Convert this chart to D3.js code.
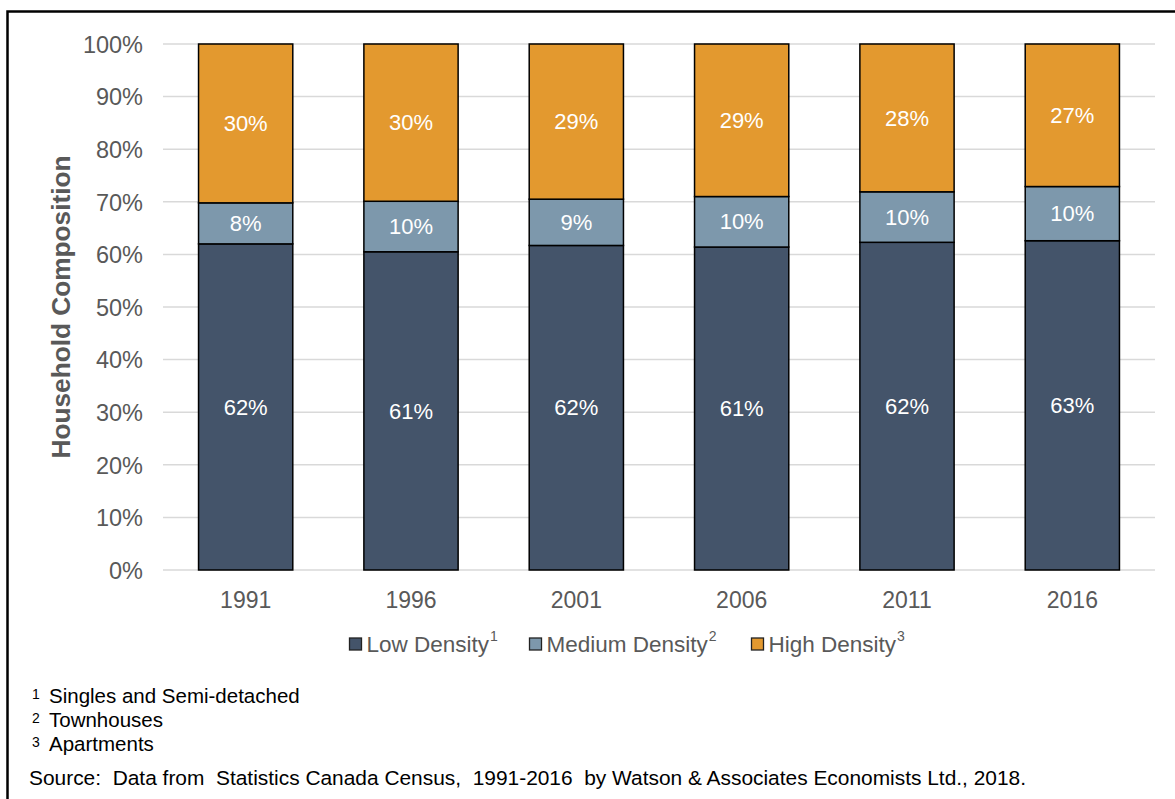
<!DOCTYPE html>
<html><head><meta charset="utf-8">
<script src="https://cdn.jsdelivr.net/npm/d3@7"></script>
<style>body{margin:0;background:#fff;} svg{display:block;font-family:"Liberation Sans",Arial,sans-serif;}</style>
</head><body>
<svg id="c" width="1175" height="799"></svg>
<script>
const years = ["1991","1996","2001","2006","2011","2016"];
const lowDensity = [62.0, 60.5, 61.7, 61.4, 62.3, 62.6];
const mediumDensity = [7.8, 9.6, 8.8, 9.6, 9.6, 10.3];
const highDensity = [30.2, 29.9, 29.5, 29.0, 28.1, 27.1];
const lowLabels = ["62%","61%","62%","61%","62%","63%"];
const mediumLabels = ["8%","10%","9%","10%","10%","10%"];
const highLabels = ["30%","30%","29%","29%","28%","27%"];
const yTicks = [0,10,20,30,40,50,60,70,80,90,100];
const seriesNames = ["Low Density","Medium Density","High Density"];
const seriesSup = ["1","2","3"];
const colors = ["#44546A","#7D98AC","#E3992F"];
const footnotes = [["1","Singles and Semi-detached"],["2","Townhouses"],["3","Apartments"]];
const sourceText = "Source:  Data from  Statistics Canada Census,  1991-2016  by Watson & Associates Economists Ltd., 2018.";

const svg = d3.select("#c");
svg.append("rect").attr("x",7.5).attr("y",11.5).attr("width",1200).attr("height",900)
  .attr("fill","none").attr("stroke","#000").attr("stroke-width",2.5);

const x = d3.scaleBand().domain(years).range([163,1155]).paddingInner(0.43).paddingOuter(0.215);
const y = d3.scaleLinear().domain([0,100]).range([570,44]);

// gridlines
svg.append("g").selectAll("line").data(yTicks).join("line")
  .attr("x1",163).attr("x2",1155).attr("y1",d=>y(d)).attr("y2",d=>y(d))
  .attr("stroke","#d9d9d9").attr("stroke-width",1.5);

// y axis labels
const yAxis = d3.axisLeft(y).tickValues(yTicks).tickFormat(d=>d+"%").tickSize(0).tickPadding(0);
const ga = svg.append("g").attr("transform","translate(143,0)").call(yAxis);
ga.select(".domain").remove();
ga.selectAll("text").attr("font-size",23.5).attr("fill","#595959").attr("font-family","Liberation Sans, Arial, sans-serif").attr("dy","0.35em");

// x axis labels
const xAxis = d3.axisBottom(x).tickSize(0).tickPadding(0);
const gx = svg.append("g").attr("transform","translate(0,600)").call(xAxis);
gx.select(".domain").remove();
gx.selectAll("text").attr("font-size",23).attr("fill","#595959").attr("font-family","Liberation Sans, Arial, sans-serif").attr("dy","0.35em");

// stacked data
const rows = years.map((yr,i)=>({year:yr, low:lowDensity[i], medium:mediumDensity[i], high:highDensity[i]}));
const keys = ["low","medium","high"];
const labelsByKey = {low:lowLabels, medium:mediumLabels, high:highLabels};
const stack = d3.stack().keys(keys)(rows);

stack.forEach((layer,li)=>{
  const g = svg.append("g");
  g.selectAll("rect").data(layer).join("rect")
    .attr("x",d=>x(d.data.year)).attr("width",x.bandwidth())
    .attr("y",d=>y(d[1])).attr("height",d=>y(d[0])-y(d[1]))
    .attr("fill",colors[li]).attr("stroke","#000").attr("stroke-width",1.5);
  g.selectAll("text").data(layer).join("text")
    .attr("x",d=>x(d.data.year)+x.bandwidth()/2)
    .attr("y",d=>(y(d[0])+y(d[1]))/2)
    .attr("dy","0.35em").attr("text-anchor","middle")
    .attr("font-size",22).attr("fill","#fff")
    .text((d,i)=>labelsByKey[layer.key][i]);
});

// axis title
svg.append("text").attr("transform","translate(70,307) rotate(-90)")
  .attr("text-anchor","middle").attr("font-size",25).attr("font-weight","bold").attr("fill","#595959")
  .attr("textLength",303).attr("lengthAdjust","spacingAndGlyphs")
  .text("Household Composition");

// legend
const legendX = [349, 529, 751];
seriesNames.forEach((n,i)=>{
  const lg = svg.append("g").attr("transform",`translate(${legendX[i]},644)`);
  lg.append("rect").attr("x",0.5).attr("y",-6).attr("width",12).attr("height",12)
    .attr("fill",colors[i]).attr("stroke","#222").attr("stroke-width",1.3);
  const t = lg.append("text").attr("x",17.5).attr("y",0).attr("dy","0.35em").attr("font-size",22.5).attr("fill","#595959");
  t.append("tspan").text(n);
  t.append("tspan").attr("font-size",14).attr("dy","-0.8em").attr("dx",1).text(seriesSup[i]);
});

// footnotes
footnotes.forEach((f,i)=>{
  const yy = 703 + i*24;
  svg.append("text").attr("x",32).attr("y",yy-4).attr("font-size",14).attr("fill","#000").text(f[0]);
  svg.append("text").attr("x",49).attr("y",yy).attr("font-size",20.5).attr("fill","#000").text(f[1]);
});
svg.append("text").attr("x",29).attr("y",785).attr("font-size",20.5).attr("fill","#000")
  .attr("textLength",997).attr("lengthAdjust","spacingAndGlyphs")
  .style("white-space","pre").text(sourceText);
</script>
</body></html>
